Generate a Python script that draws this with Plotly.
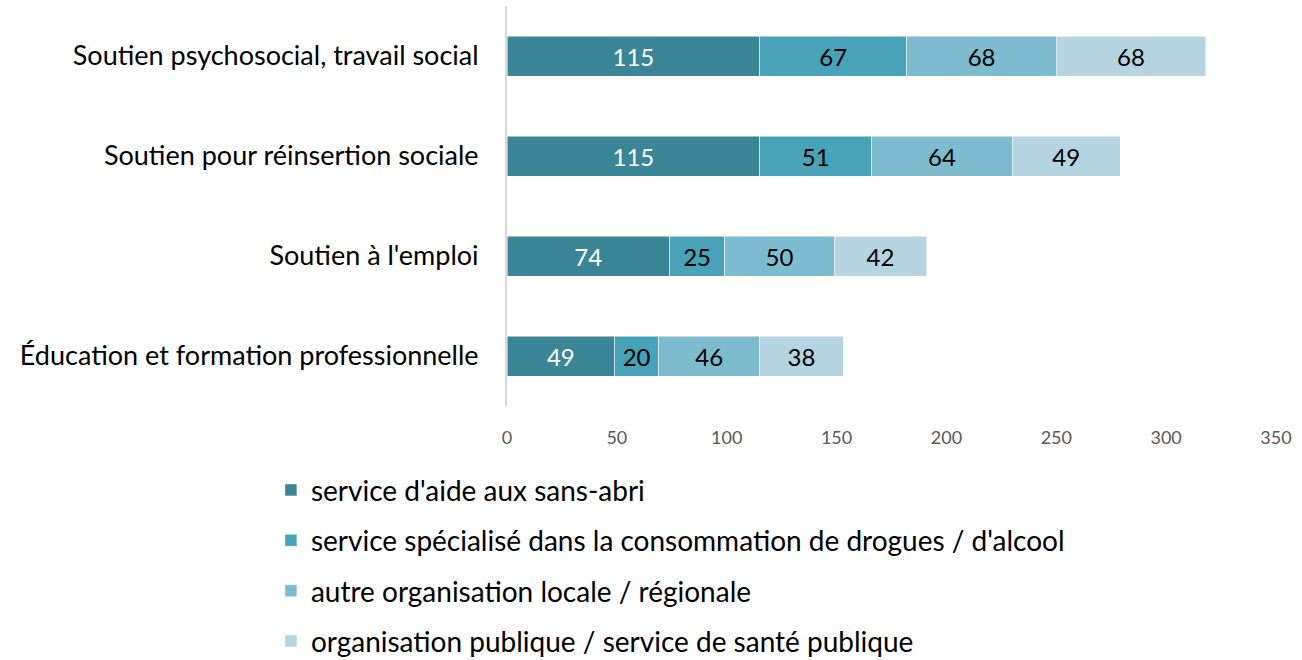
import plotly.graph_objects as go

categories = ["Éducation et formation professionnelle", "Soutien à l'emploi",
              "Soutien pour réinsertion sociale", "Soutien psychosocial, travail social"]
series_names = ["service d'aide aux sans-abri",
                "service spécialisé dans la consommation de drogues / d'alcool",
                "autre organisation locale / régionale",
                "organisation publique / service de santé publique"]
sans_abri = [49, 74, 115, 115]
drogues = [20, 25, 51, 67]
locale = [46, 50, 64, 68]
publique = [38, 42, 49, 68]
colors = ["#3A8697", "#48A2B8", "#7DBBCF", "#B4D4DF"]
text_colors = ["white", "black", "black", "black"]
x_ticks = [0, 50, 100, 150, 200, 250, 300, 350]

FONT = "Lato"
fig = go.Figure()
for i, (name, vals) in enumerate(zip(series_names, [sans_abri, drogues, locale, publique])):
    fig.add_trace(go.Bar(
        y=categories, x=vals, name=name, orientation="h",
        marker=dict(color=colors[i], line=dict(width=0.5, color="white")),
        text=vals, textposition="inside", insidetextanchor="middle",
        textangle=0, constraintext="none",
        textfont=dict(size=24, color=text_colors[i], family=FONT),
        legendgroup=str(i),
    ))

fig.update_layout(
    barmode="stack", bargap=0.6,
    width=1302, height=660,
    margin=dict(l=507, r=26, t=6, b=254, autoexpand=False),
    plot_bgcolor="white", paper_bgcolor="white",
    font=dict(family=FONT, color="black"),
    xaxis=dict(range=[0, 350], tickvals=x_ticks, showgrid=False, zeroline=False,
               showline=False, tickfont=dict(size=18, color="#595959"),
               ticks="outside", ticklen=15, tickcolor="rgba(0,0,0,0)"),
    yaxis=dict(showgrid=False, zeroline=False, showline=True, linecolor="#D9D9D9",
               linewidth=2, tickfont=dict(size=27, color="black"),
               ticklabelstandoff=21, range=[-0.5, 3.5], automargin=False),
    legend=dict(x=-0.307, y=-0.148, xanchor="left", yanchor="top",
                orientation="v", traceorder="grouped", tracegroupgap=11,
                font=dict(size=28, color="black"), itemwidth=30),
    showlegend=True,
)
fig.write_html("out.html", config={"displayModeBar": False},
               post_script="document.body.style.margin='0';")
